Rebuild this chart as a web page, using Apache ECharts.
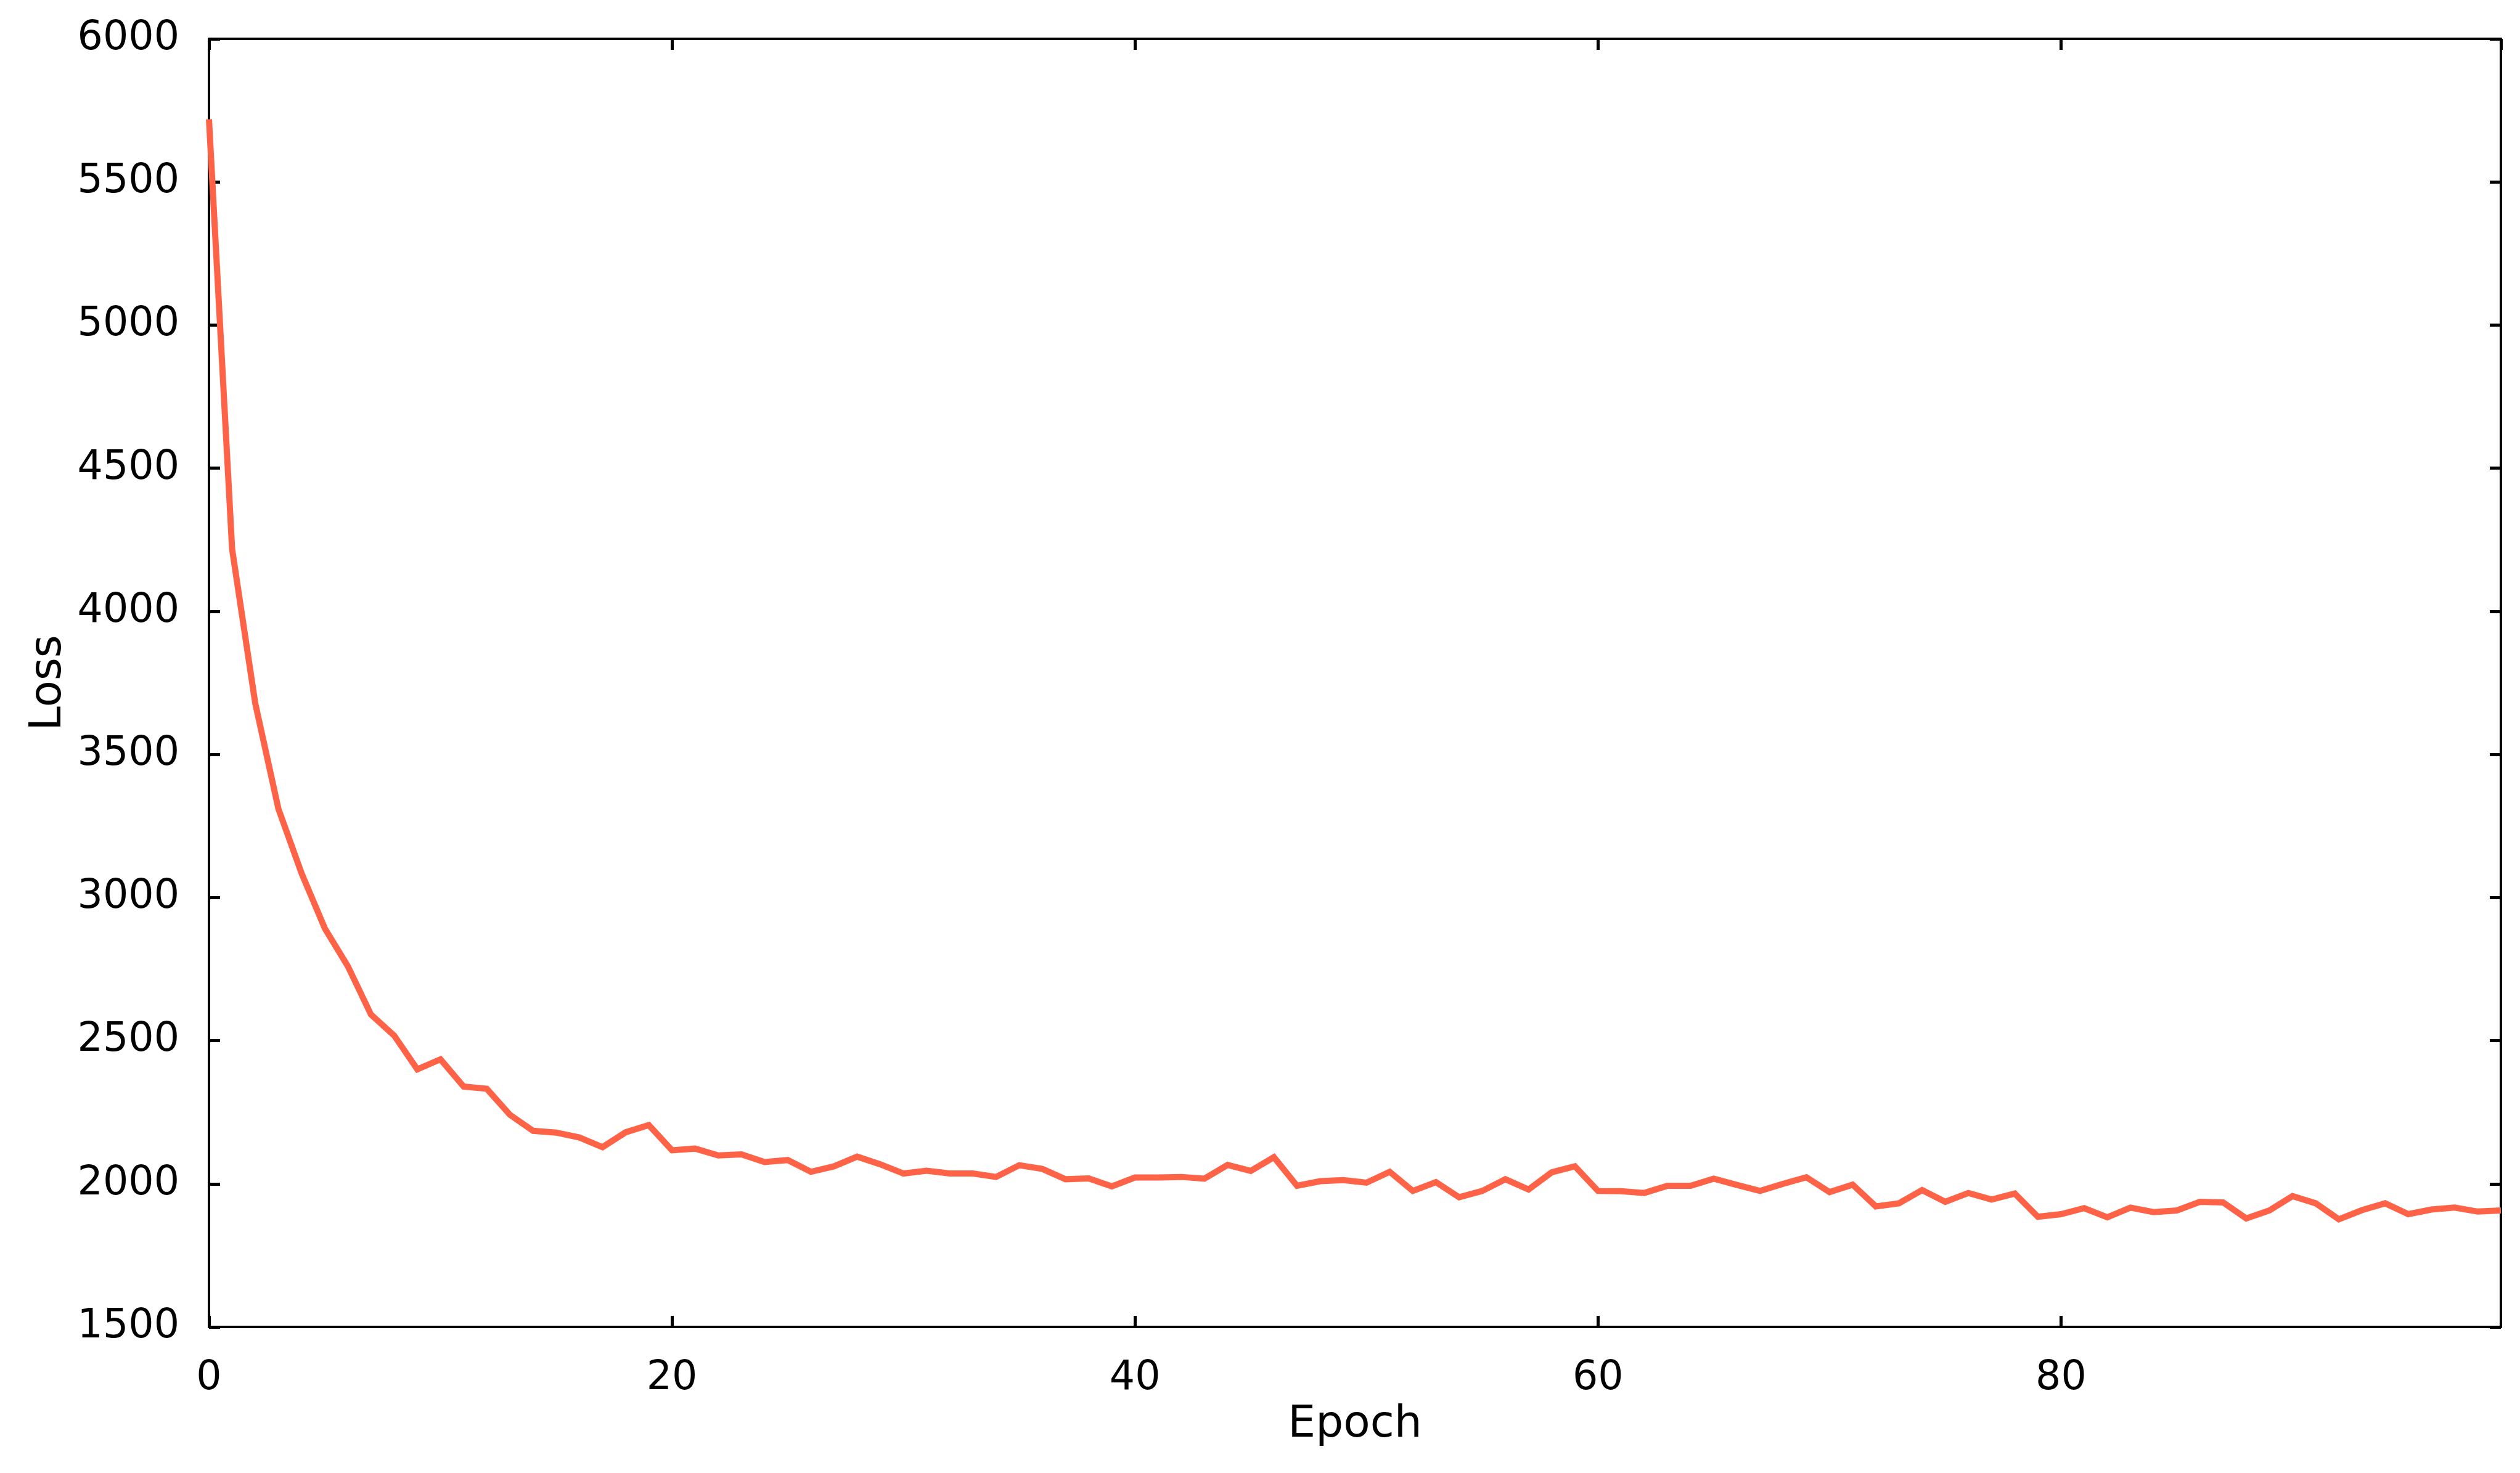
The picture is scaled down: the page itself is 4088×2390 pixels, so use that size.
<!DOCTYPE html>
<html>
<head>
<meta charset="utf-8">
<script src="https://cdn.jsdelivr.net/npm/echarts@6/dist/echarts.min.js"></script>
<style>
html,body{margin:0;padding:0;background:#fff;}
#chart{width:4088px;height:2390px;}
</style>
</head>
<body>
<div id="chart"></div>
<script>
const epochs = [0,1,2,3,4,5,6,7,8,9,10,11,12,13,14,15,16,17,18,19,20,21,22,23,24,25,26,27,28,29,30,31,32,33,34,35,36,37,38,39,40,41,42,43,44,45,46,47,48,49,50,51,52,53,54,55,56,57,58,59,60,61,62,63,64,65,66,67,68,69,70,71,72,73,74,75,76,77,78,79,80,81,82,83,84,85,86,87,88,89,90,91,92,93,94,95,96,97,98,99];
const loss = [5719,4217,3678,3310,3085,2893,2760,2591,2518,2400,
              2435,2340,2332,2241,2185,2179,2162,2128,2180,2205,
              2117,2123,2099,2103,2076,2083,2042,2061,2095,2068,
              2036,2046,2036,2036,2024,2065,2052,2016,2019,1991,
              2022,2022,2024,2018,2066,2045,2093,1993,2009,2013,
              2004,2042,1975,2006,1953,1975,2016,1980,2040,2061,
              1975,1974,1968,1993,1993,2018,1996,1975,2000,2023,
              1971,1997,1921,1932,1978,1937,1968,1945,1966,1885,
              1894,1915,1883,1917,1901,1907,1937,1935,1879,1907,
              1957,1932,1876,1908,1932,1894,1910,1917,1903,1907];
const xTickStep = 20;
const yTickStep = 500;
const yRange = [1500, 6000];
const xRange = [0, 99];

const FONT = 'DejaVu Sans';
const axisLine = {show:true, onZero:false, lineStyle:{color:'#000', width:4}};
const tickStyle = {show:true, inside:true, length:18, lineStyle:{color:'#000', width:5}};

const chart = echarts.init(document.getElementById('chart'), null, {renderer:'canvas'});
chart.setOption({
  animation:false,
  backgroundColor:'#fff',
  grid:{left:339, right:31, top:63, bottom:237, containLabel:false},
  xAxis:[{
    type:'value', min:xRange[0], max:xRange[1], interval:xTickStep, position:'bottom',
    name:'Epoch', nameLocation:'middle', nameGap:124,
    nameTextStyle:{fontFamily:FONT, fontSize:71, color:'#000'},
    axisLine:axisLine,
    axisTick:tickStyle,
    axisLabel:{fontFamily:FONT, fontSize:65, color:'#000', margin:52, showMaxLabel:false,
               formatter:v=>String(v)},
    splitLine:{show:false}
  },{
    type:'value', min:xRange[0], max:xRange[1], interval:xTickStep, position:'top',
    axisLine:axisLine,
    axisTick:tickStyle,
    axisLabel:{show:false},
    splitLine:{show:false}
  }],
  yAxis:[{
    type:'value', min:yRange[0], max:yRange[1], interval:yTickStep, position:'left',
    name:'Loss', nameLocation:'middle', nameGap:213, nameRotate:90,
    nameTextStyle:{fontFamily:FONT, fontSize:71, color:'#000'},
    axisLine:axisLine,
    axisTick:tickStyle,
    axisLabel:{fontFamily:FONT, fontSize:65, color:'#000', margin:48,
               formatter:v=>String(v)},
    splitLine:{show:false}
  },{
    type:'value', min:yRange[0], max:yRange[1], interval:yTickStep, position:'right',
    axisLine:axisLine,
    axisTick:tickStyle,
    axisLabel:{show:false},
    splitLine:{show:false}
  }],
  series:[{
    type:'line',
    xAxisIndex:0, yAxisIndex:0,
    data: epochs.map((e,i)=>[e, loss[i]]),
    showSymbol:false,
    lineStyle:{color:'#ff6347', width:10, join:'miter'},
    itemStyle:{color:'#ff6347'}
  }]
});
</script>
</body>
</html>
